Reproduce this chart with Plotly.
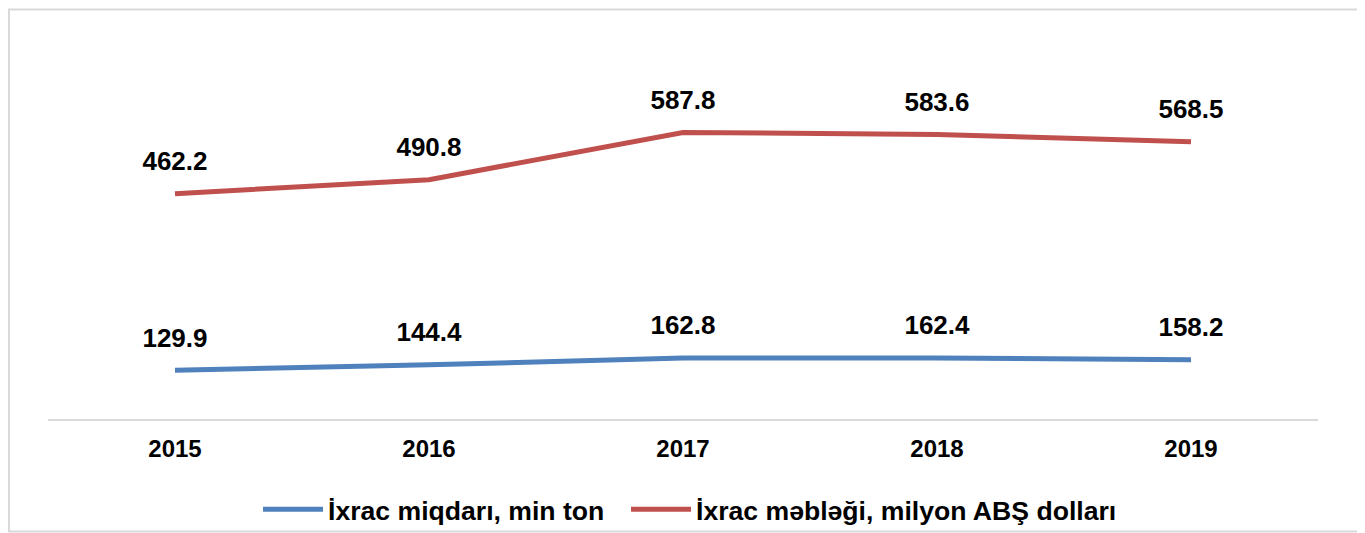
import plotly.graph_objects as go

years = ["2015", "2016", "2017", "2018", "2019"]
quantity = [129.9, 144.4, 162.8, 162.4, 158.2]
value_usd = [462.2, 490.8, 587.8, 583.6, 568.5]
name_qty = "İxrac miqdarı, min ton"
name_val = "İxrac məbləği, milyon ABŞ dolları"

FONT = "Liberation Sans, Arial, sans-serif"
BLUE = "#4f81bd"
RED = "#c0504d"

fig = go.Figure()
for vals, nm, col, ax, lg in [(quantity, name_qty, BLUE, "y2", "legend"),
                              (value_usd, name_val, RED, "y", "legend2")]:
    fig.add_trace(go.Scatter(
        x=years, y=vals, name=nm, yaxis=ax, legend=lg,
        mode="lines+markers+text",
        line=dict(color=col, width=5),
        marker=dict(size=26, color="rgba(0,0,0,0)"),
        text=[f"{v:.1f}" for v in vals], textposition="top center",
        textfont=dict(family=FONT, size=26, color="#000000", weight="bold"),
        cliponaxis=False,
    ))

legend_style = dict(
    orientation="h", xanchor="left", xref="container",
    y=0.045, yanchor="middle", yref="container",
    font=dict(family=FONT, size=26.6, color="#000000", weight="bold"),
    itemwidth=60, bgcolor="rgba(0,0,0,0)",
)

fig.update_layout(
    width=1357, height=525,
    margin=dict(l=40, r=47, t=21, b=114),
    paper_bgcolor="white", plot_bgcolor="white",
    font=dict(family=FONT, color="#000000"),
    xaxis=dict(
        type="category", range=[-0.5, 4.5],
        showline=True, linecolor="#d9d9d9", linewidth=2,
        showgrid=False, zeroline=False, ticks="",
        tickfont=dict(family=FONT, size=24, color="#000000", weight="bold"),
        ticklabelstandoff=7,
    ),
    yaxis=dict(range=[0, 800], visible=False, fixedrange=True),
    yaxis2=dict(range=[0, 1040], visible=False, overlaying="y", side="right"),
    legend=dict(x=250 / 1357, **legend_style),
    legend2=dict(x=618 / 1357, **legend_style),
    showlegend=True,
    shapes=[dict(
        type="rect", xref="paper", yref="paper",
        x0=-0.0307, x1=1.0315, y0=-0.2885, y1=1.05,
        line=dict(color="#d9d9d9", width=2), fillcolor="rgba(0,0,0,0)",
        layer="below",
    )],
)

fig.write_html("out.html")
